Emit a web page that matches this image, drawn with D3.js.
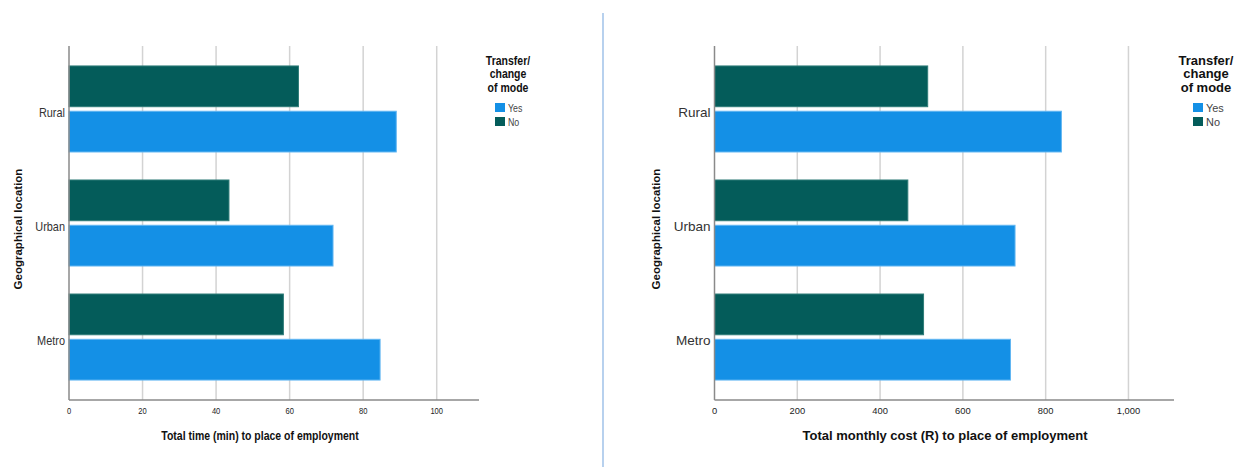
<!DOCTYPE html>
<html>
<head>
<meta charset="utf-8">
<script src="https://cdn.jsdelivr.net/npm/d3@7/dist/d3.min.js"></script>
<style>
  html, body { margin: 0; padding: 0; background: #fff; }
  svg { display: block; font-family: "Liberation Sans", Arial, sans-serif; }
</style>
</head>
<body>
<svg id="chart" width="1242" height="467"></svg>
<script>
// Geographical locations (top to bottom) and the two transfer groups
const locations = ["Rural", "Urban", "Metro"];
const transferGroups = ["No", "Yes"];
const legendOrder = ["Yes", "No"];

// Average total travel time (minutes) to place of employment
const timeYes = [89.0, 71.8, 84.6];
const timeNo = [62.4, 43.5, 58.3];
const timeTicks = [0, 20, 40, 60, 80, 100];

// Average total monthly cost (Rand) to place of employment
const costYes = [838, 726, 715];
const costNo = [515, 467, 505];
const costTicks = [0, 200, 400, 600, 800, 1000];

const colors = { Yes: "#1490e6", No: "#045c5a" };
const strokes = { Yes: "#62b6f2", No: "#2f7c78" };

const svg = d3.select("#chart");

// Divider between the two panels
svg.append("line")
  .attr("x1", 603).attr("x2", 603).attr("y1", 13).attr("y2", 467)
  .attr("stroke", "#a6c6ea").attr("stroke-width", 1.6);

// Text helper: places text with an optional horizontal squeeze
function addText(g, x, y, str, sx, opts) {
  const t = g.append("text")
    .attr("transform", `translate(${x},${y}) scale(${sx},1)`)
    .text(str);
  Object.entries(opts || {}).forEach(([k, v]) => t.attr(k, v));
  return t;
}

function panel(cfg) {
  const g = svg.append("g");
  const sx = cfg.sx;
  const top = 46, bottom = 400;

  const x = d3.scaleLinear().domain([0, cfg.max]).range([cfg.x0, cfg.x1]);
  const y = d3.scaleBand().domain(locations).range([top, bottom])
    .paddingInner(0.2456).paddingOuter(0.175);
  const ySub = d3.scaleBand().domain(transferGroups).range([0, y.bandwidth()])
    .paddingInner(0.1);

  // Vertical gridlines
  g.selectAll("line.grid").data(cfg.ticks.filter(d => d > 0)).enter()
    .append("line").attr("class", "grid")
    .attr("x1", d => x(d)).attr("x2", d => x(d))
    .attr("y1", top).attr("y2", bottom)
    .attr("stroke", "#d3d3d3").attr("stroke-width", 1.5);

  // Bars
  const rows = locations.map((loc, i) => ({ loc, Yes: cfg.yes[i], No: cfg.no[i] }));
  rows.forEach(r => {
    transferGroups.forEach(k => {
      g.append("rect")
        .attr("x", x(0))
        .attr("y", y(r.loc) + ySub(k))
        .attr("width", x(r[k]) - x(0))
        .attr("height", ySub.bandwidth())
        .attr("fill", colors[k])
        .attr("stroke", strokes[k]).attr("stroke-width", 1);
    });
  });

  // Axis lines
  g.append("line").attr("x1", x(0)).attr("x2", x(0)).attr("y1", top).attr("y2", bottom)
    .attr("stroke", "#8a8a8a").attr("stroke-width", 1.5);
  g.append("line").attr("x1", x(0)).attr("x2", cfg.x1).attr("y1", bottom).attr("y2", bottom)
    .attr("stroke", "#8a8a8a").attr("stroke-width", 1.5);

  // Tick labels
  const fmt = d3.format(",");
  cfg.ticks.forEach(d => {
    addText(g, x(d), 414, fmt(d), sx, { "text-anchor": "middle", "font-size": 9, fill: "#222" });
  });

  // Category labels
  locations.forEach(loc => {
    addText(g, x(0) - 4, y(loc) + y.bandwidth() / 2 + 8, loc, sx,
      { "text-anchor": "end", "font-size": 13, fill: "#333" });
  });

  // Axis titles
  addText(g, cfg.titleX, 439.5, cfg.xTitle, sx,
    { "text-anchor": "middle", "font-size": 12.5, "font-weight": "bold", fill: "#111" });
  g.append("text")
    .attr("transform", `translate(${cfg.yTitleX},229) rotate(-90)`)
    .attr("text-anchor", "middle").attr("font-size", 11.5).attr("font-weight", "bold")
    .attr("fill", "#111").text("Geographical location");

  // Legend
  ["Transfer/", "change", "of mode"].forEach((line, i) => {
    addText(g, cfg.legendX + 13, 64.5 + i * 13.5, line, sx,
      { "text-anchor": "middle", "font-size": 12.5, "font-weight": "bold", fill: "#111" });
  });
  legendOrder.forEach((k, i) => {
    g.append("rect").attr("x", cfg.legendX).attr("y", 103 + i * 14)
      .attr("width", 10).attr("height", 9).attr("fill", colors[k]);
    addText(g, cfg.legendX + 13, 112 + i * 13.5, k, sx,
      { "font-size": 10.5, fill: "#444" });
  });
}

panel({
  x0: 69, x1: 479, max: 111.5, ticks: timeTicks,
  yes: timeYes, no: timeNo, sx: 0.84,
  xTitle: "Total time (min) to place of employment", titleX: 260,
  yTitleX: 21.5, legendX: 495
});

panel({
  x0: 714.5, x1: 1174, max: 1110, ticks: costTicks,
  yes: costYes, no: costNo, sx: 1.04,
  xTitle: "Total monthly cost (R) to place of employment", titleX: 945,
  yTitleX: 660, legendX: 1193
});
</script>
</body>
</html>
